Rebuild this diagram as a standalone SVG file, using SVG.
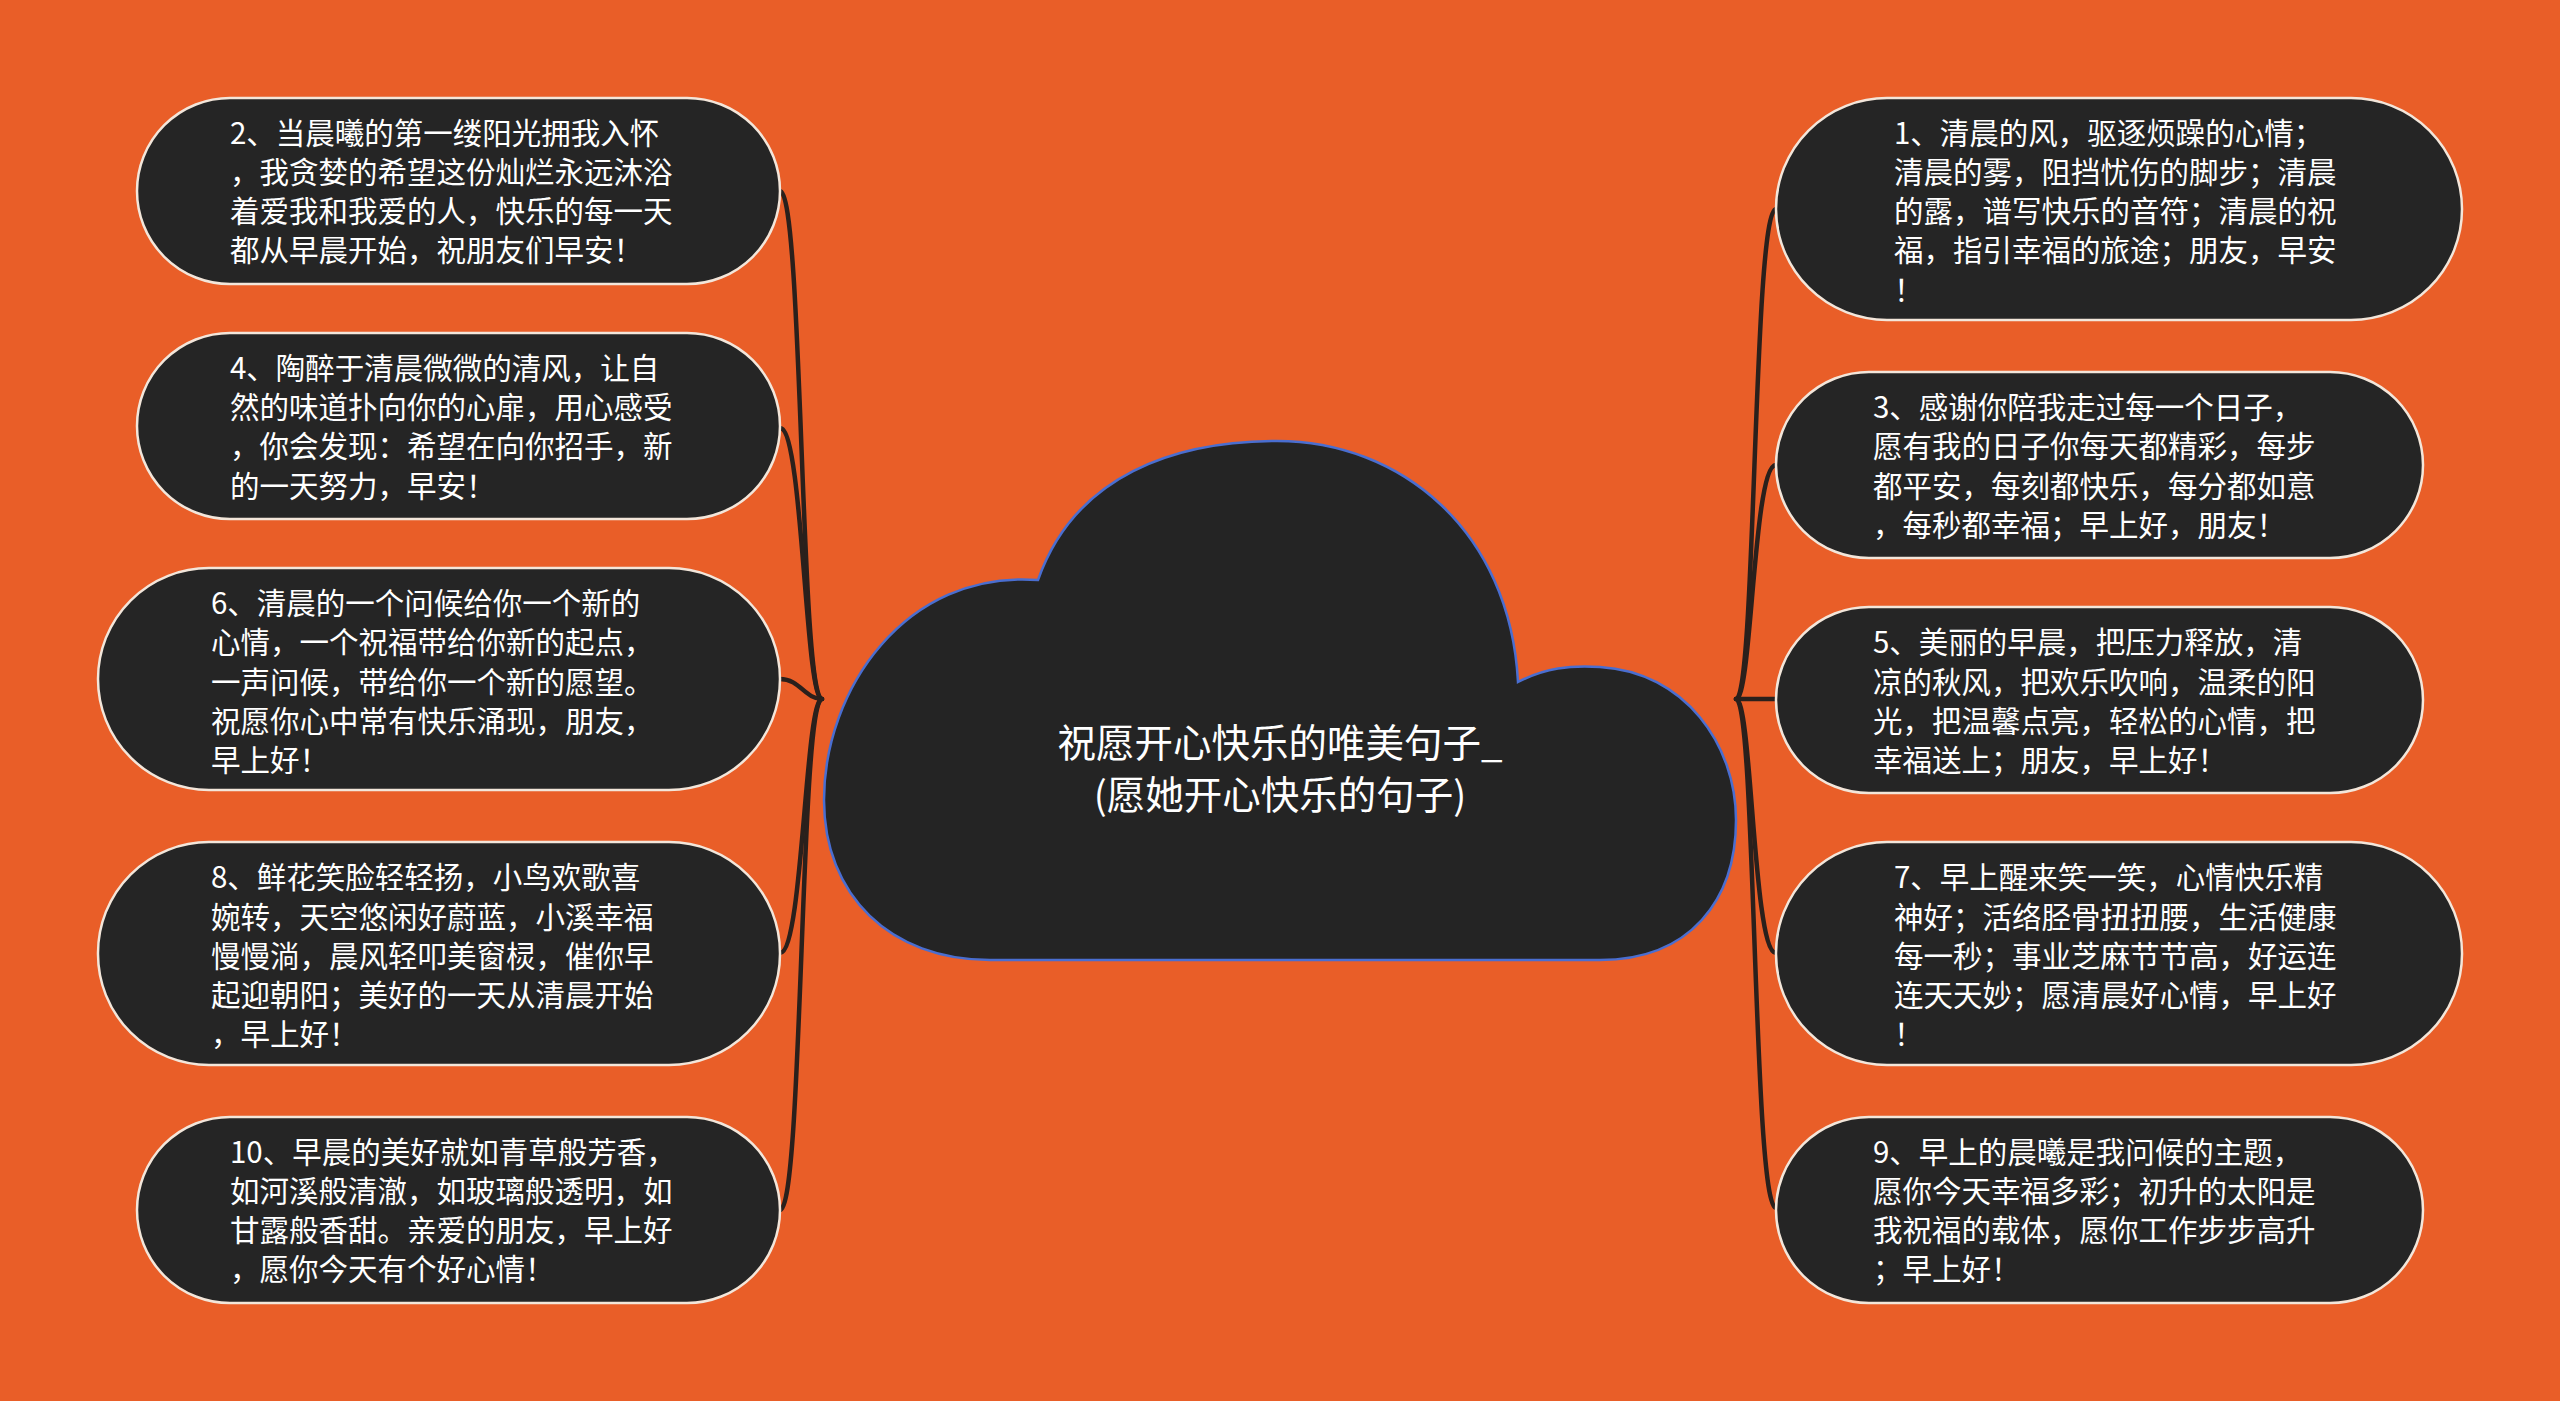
<svg xmlns="http://www.w3.org/2000/svg" width="2560" height="1401" viewBox="0 0 2560 1401">
<style>
.bg{fill:#E95E28}
.node{fill:#252525;stroke:#F3E6DA;stroke-width:2.5}
.t{font-family:"Noto Sans CJK SC","Noto Sans",sans-serif;font-size:29.5px;fill:#FFFFFF}
.ct{font-family:"Noto Sans CJK SC","Noto Sans",sans-serif;font-size:38.5px;fill:#FFFFFF;text-anchor:middle}
.link{fill:none;stroke:#2A201C;stroke-width:4.5;stroke-linecap:round}
.cloud{fill:#242424;stroke:#4A6ED0;stroke-width:2.5}
</style>
<rect class="bg" x="0" y="0" width="2560" height="1401"/>
<g id="connectors">
<path class="link" d="M780 191 C803 191 800 699 822 699"/>
<path class="link" d="M780 428 C803 428 805 699 822 699"/>
<path class="link" d="M780 679 C800 679 805 699 822 699"/>
<path class="link" d="M780 953 C803 953 805 699 822 699"/>
<path class="link" d="M780 1210 C803 1210 800 699 822 699"/>
<path class="link" d="M1776 209 C1753 209 1756 699 1736 699"/>
<path class="link" d="M1776 465 C1753 465 1752 699 1736 699"/>
<path class="link" d="M1776 699 L1736 699"/>
<path class="link" d="M1776 953 C1753 953 1752 699 1736 699"/>
<path class="link" d="M1776 1208 C1753 1208 1756 699 1736 699"/>
</g>
<g id="center">
<path class="cloud" d="M1038 580 C1075 475 1175 441 1277 441 C1400 441 1510 530 1518 682 C1545 668 1570 665 1600 667 C1685 672 1736 745 1736 820 C1736 900 1690 960 1600 960 L990 960 C890 960 824 895 824 800 C824 690 905 570 1038 580 Z"/>
<text class="ct" x="1280" y="757">祝愿开心快乐的唯美句子_</text>
<text class="ct" x="1280" y="809">(愿她开心快乐的句子)</text>
</g>
<g id="node2">
<rect class="node" x="137" y="98" width="643" height="186" rx="93"/>
<text class="t" x="230" y="144">2、当晨曦的第一缕阳光拥我入怀</text>
<text class="t" x="230" y="183">，我贪婪的希望这份灿烂永远沐浴</text>
<text class="t" x="230" y="222">着爱我和我爱的人，快乐的每一天</text>
<text class="t" x="230" y="261">都从早晨开始，祝朋友们早安！</text>
</g>
<g id="node4">
<rect class="node" x="137" y="333" width="643" height="186" rx="93"/>
<text class="t" x="230" y="379">4、陶醉于清晨微微的清风，让自</text>
<text class="t" x="230" y="418">然的味道扑向你的心扉，用心感受</text>
<text class="t" x="230" y="457">，你会发现：希望在向你招手，新</text>
<text class="t" x="230" y="497">的一天努力，早安！</text>
</g>
<g id="node6">
<rect class="node" x="98" y="568" width="682" height="222" rx="111"/>
<text class="t" x="211" y="614">6、清晨的一个问候给你一个新的</text>
<text class="t" x="211" y="653">心情，一个祝福带给你新的起点，</text>
<text class="t" x="211" y="693">一声问候，带给你一个新的愿望。</text>
<text class="t" x="211" y="732">祝愿你心中常有快乐涌现，朋友，</text>
<text class="t" x="211" y="771">早上好！</text>
</g>
<g id="node8">
<rect class="node" x="98" y="842" width="682" height="223" rx="111"/>
<text class="t" x="211" y="888">8、鲜花笑脸轻轻扬，小鸟欢歌喜</text>
<text class="t" x="211" y="928">婉转，天空悠闲好蔚蓝，小溪幸福</text>
<text class="t" x="211" y="967">慢慢淌，晨风轻叩美窗棂，催你早</text>
<text class="t" x="211" y="1006">起迎朝阳；美好的一天从清晨开始</text>
<text class="t" x="211" y="1045">，早上好！</text>
</g>
<g id="node10">
<rect class="node" x="137" y="1117" width="643" height="186" rx="93"/>
<text class="t" x="230" y="1163">10、早晨的美好就如青草般芳香，</text>
<text class="t" x="230" y="1202">如河溪般清澈，如玻璃般透明，如</text>
<text class="t" x="230" y="1241">甘露般香甜。亲爱的朋友，早上好</text>
<text class="t" x="230" y="1280">，愿你今天有个好心情！</text>
</g>
<g id="node1">
<rect class="node" x="1776" y="98" width="686" height="222" rx="111"/>
<text class="t" x="1894" y="144">1、清晨的风，驱逐烦躁的心情；</text>
<text class="t" x="1894" y="183">清晨的雾，阻挡忧伤的脚步；清晨</text>
<text class="t" x="1894" y="222">的露，谱写快乐的音符；清晨的祝</text>
<text class="t" x="1894" y="261">福，指引幸福的旅途；朋友，早安</text>
<text class="t" x="1894" y="301">！</text>
</g>
<g id="node3">
<rect class="node" x="1776" y="372" width="647" height="186" rx="93"/>
<text class="t" x="1873" y="418">3、感谢你陪我走过每一个日子，</text>
<text class="t" x="1873" y="457">愿有我的日子你每天都精彩，每步</text>
<text class="t" x="1873" y="497">都平安，每刻都快乐，每分都如意</text>
<text class="t" x="1873" y="536">，每秒都幸福；早上好，朋友！</text>
</g>
<g id="node5">
<rect class="node" x="1776" y="607" width="647" height="186" rx="93"/>
<text class="t" x="1873" y="653">5、美丽的早晨，把压力释放，清</text>
<text class="t" x="1873" y="693">凉的秋风，把欢乐吹响，温柔的阳</text>
<text class="t" x="1873" y="732">光，把温馨点亮，轻松的心情，把</text>
<text class="t" x="1873" y="771">幸福送上；朋友，早上好！</text>
</g>
<g id="node7">
<rect class="node" x="1776" y="842" width="686" height="223" rx="111"/>
<text class="t" x="1894" y="888">7、早上醒来笑一笑，心情快乐精</text>
<text class="t" x="1894" y="928">神好；活络胫骨扭扭腰，生活健康</text>
<text class="t" x="1894" y="967">每一秒；事业芝麻节节高，好运连</text>
<text class="t" x="1894" y="1006">连天天妙；愿清晨好心情，早上好</text>
<text class="t" x="1894" y="1045">！</text>
</g>
<g id="node9">
<rect class="node" x="1776" y="1117" width="647" height="186" rx="93"/>
<text class="t" x="1873" y="1163">9、早上的晨曦是我问候的主题，</text>
<text class="t" x="1873" y="1202">愿你今天幸福多彩；初升的太阳是</text>
<text class="t" x="1873" y="1241">我祝福的载体，愿你工作步步高升</text>
<text class="t" x="1873" y="1280">；早上好！</text>
</g>
</svg>
